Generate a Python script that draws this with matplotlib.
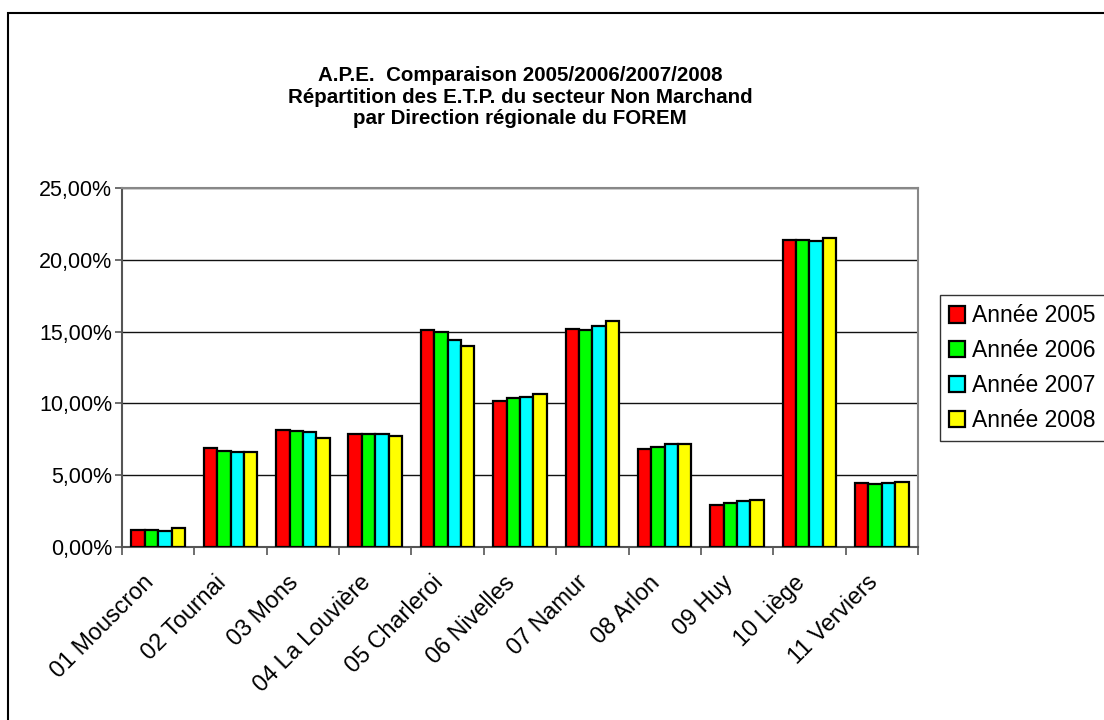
import matplotlib.pyplot as plt
import numpy as np
from matplotlib.ticker import FuncFormatter, FixedLocator
from matplotlib.patches import Rectangle

plt.rcParams['font.family'] = ['Liberation Sans', 'DejaVu Sans']

# Directions régionales du FOREM
regions = ['01 Mouscron', '02 Tournai', '03 Mons', '04 La Louvière', '05 Charleroi',
           '06 Nivelles', '07 Namur', '08 Arlon', '09 Huy', '10 Liège', '11 Verviers']

# parts des E.T.P. en %
annee_2005 = [1.21, 6.88, 8.18, 7.86, 15.08, 10.16, 15.17, 6.85, 2.94, 21.38, 4.45]
annee_2006 = [1.19, 6.71, 8.11, 7.88, 14.94, 10.37, 15.13, 6.97, 3.03, 21.35, 4.38]
annee_2007 = [1.14, 6.64, 8.00, 7.86, 14.41, 10.47, 15.36, 7.16, 3.19, 21.33, 4.48]
annee_2008 = [1.31, 6.64, 7.60, 7.74, 14.01, 10.68, 15.71, 7.20, 3.26, 21.49, 4.50]

series = [annee_2005, annee_2006, annee_2007, annee_2008]
labels = ['Année 2005', 'Année 2006', 'Année 2007', 'Année 2008']
colors = ['#ff0000', '#00ff00', '#00ffff', '#ffff00']

fig = plt.figure(figsize=(11.04, 7.2), dpi=100)
ax = fig.add_axes([0.1105, 0.2403, 0.7210, 0.4986])

x = np.arange(len(regions))
w = 0.185
for i, (vals, lab, col) in enumerate(zip(series, labels, colors)):
    ax.bar(x + (i - 1.5) * w, vals, w, color=col, edgecolor='black', linewidth=1.6,
           label=lab, zorder=3)

ax.set_ylim(0, 25)
ax.set_xlim(-0.5, len(regions) - 0.5)
ax.set_yticks(np.arange(0, 26, 5))
ax.yaxis.set_major_formatter(FuncFormatter(lambda v, p: f'{v:.2f}'.replace('.', ',') + '%'))
ax.yaxis.grid(True, color='#111111', linewidth=1.0, zorder=0)

ax.set_xticks(x)
ax.set_xticklabels(regions, rotation=45, ha='right', va='bottom',
                   rotation_mode='anchor', fontsize=16.8)
ax.xaxis.set_minor_locator(FixedLocator(np.arange(-0.5, len(regions), 1)))
ax.tick_params(axis='x', which='major', length=0, pad=29)
ax.tick_params(axis='x', which='minor', length=6, width=1.2, color='#555555')
ax.tick_params(axis='y', length=5, width=1.2, color='#555555', labelsize=15.5, pad=2)

for s in ['top', 'right']:
    ax.spines[s].set_color('#888888')
    ax.spines[s].set_linewidth(1.5)
for s in ['left', 'bottom']:
    ax.spines[s].set_color('#555555')
    ax.spines[s].set_linewidth(1.5)

fig.text(0.471, 0.865, 'A.P.E.  Comparaison 2005/2006/2007/2008\n'
         'Répartition des E.T.P. du secteur Non Marchand\n'
         'par Direction régionale du FOREM',
         ha='center', va='center', fontsize=14.8, fontweight='bold', linespacing=1.15)

leg = fig.legend(loc='upper left', bbox_to_anchor=(0.851, 0.590), frameon=True,
                 fancybox=False, edgecolor='black', fontsize=16.5, handlelength=0.72,
                 handleheight=0.72, handletextpad=0.3, labelspacing=0.52,
                 borderpad=0.4, borderaxespad=0)
leg.get_frame().set_linewidth(1.0)

# cadre extérieur du graphique
fig.patches.append(Rectangle((8 / 1104, -0.05), 1.2, 1 - 13 / 720 + 0.05,
                             transform=fig.transFigure, fill=False,
                             edgecolor='black', linewidth=1.5))

fig.savefig('out.png', dpi=100)
